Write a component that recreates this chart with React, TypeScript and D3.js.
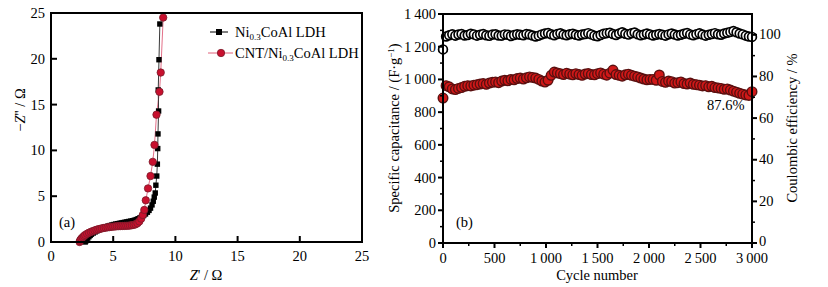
import React from "react";
import * as d3 from "d3";

// ---------- Panel (a) data: Nyquist plots ----------
const niZre = [2.75, 2.8, 2.85, 2.95, 3.05, 3.15, 3.25, 3.4, 3.55, 3.7, 3.85, 4.0, 4.15, 4.3, 4.45, 4.6, 4.75, 4.9, 5.05, 5.2, 5.35, 5.5, 5.65, 5.8, 5.95, 6.1, 6.25, 6.4, 6.55, 6.7, 6.85, 7.0, 7.15, 7.3, 7.45, 7.6, 7.75, 7.88, 8.0, 8.12, 8.22, 8.3, 8.38, 8.43, 8.5, 8.55, 8.58, 8.6, 8.65, 8.62, 8.68, 8.75];
const niZim = [0.0, 0.12, 0.25, 0.42, 0.58, 0.72, 0.85, 0.98, 1.1, 1.22, 1.33, 1.43, 1.52, 1.6, 1.67, 1.74, 1.8, 1.86, 1.91, 1.96, 2.0, 2.04, 2.08, 2.12, 2.16, 2.2, 2.24, 2.28, 2.32, 2.38, 2.45, 2.54, 2.64, 2.76, 2.9, 3.06, 3.25, 3.45, 3.7, 4.05, 4.45, 4.9, 5.35, 6.2, 7.2, 8.5, 10.2, 11.8, 14.3, 16.6, 19.9, 23.8];
const cntZre = [2.3, 2.33, 2.38, 2.45, 2.55, 2.65, 2.75, 2.9, 3.05, 3.2, 3.35, 3.5, 3.65, 3.8, 3.95, 4.1, 4.25, 4.4, 4.55, 4.7, 4.85, 5.0, 5.15, 5.3, 5.45, 5.6, 5.75, 5.9, 6.05, 6.2, 6.35, 6.5, 6.65, 6.8, 6.95, 7.1, 7.25, 7.38, 7.5, 7.62, 7.8, 8.0, 8.18, 8.32, 8.48, 8.72, 8.82, 9.02];
const cntZim = [0.0, 0.12, 0.25, 0.38, 0.52, 0.65, 0.77, 0.9, 1.01, 1.1, 1.18, 1.26, 1.33, 1.39, 1.44, 1.49, 1.53, 1.57, 1.6, 1.63, 1.66, 1.68, 1.7, 1.72, 1.73, 1.74, 1.75, 1.76, 1.77, 1.78, 1.8, 1.83, 1.87, 1.93, 2.05, 2.25, 2.55, 2.95, 3.5, 4.55, 5.85, 7.2, 8.75, 10.6, 13.9, 16.4, 18.5, 24.5];
const aTicks = [0, 5, 10, 15, 20, 25];
const legendA = ["Ni", "CNT/Ni"];

// ---------- Panel (b) data: cycling ----------
const cycleStep = 30;
const efficiency = [
  93.0, 99.2, 99.8, 100.3, 99.6, 100.1, 100.4, 99.7, 99.9, 100.5,
  100.2, 99.6, 100.0, 100.4, 99.8, 99.5, 100.1, 100.3, 99.7, 99.6,
  100.2, 100.0, 99.4, 99.9, 100.3, 100.0, 99.8, 100.4, 100.1, 99.7,
  99.2, 99.6, 100.2, 100.6, 100.9, 100.3, 99.8, 100.4, 100.7, 100.1,
  99.8, 100.3, 100.5, 100.0, 99.7, 100.1, 100.4, 100.8, 100.2, 99.6,
  99.3, 99.9, 100.5, 100.8, 101.0, 100.4, 99.9, 100.6, 101.2, 100.5,
  100.1, 100.7, 101.1, 100.3, 99.8, 100.1, 100.6, 100.2, 99.7, 100.0,
  100.4, 100.0, 99.6, 100.2, 100.6, 100.1, 99.7, 100.0, 100.5, 100.9,
  100.2, 99.8, 100.3, 100.7, 100.1, 99.6, 100.0, 100.4, 100.8, 100.3,
  100.0, 100.6, 101.0, 101.4, 101.8, 101.2, 100.6, 100.2, 99.6, 99.2, 99.0,
];
const capacitance = [
  886, 962, 955, 942, 938, 945, 950, 958, 962, 960,
  965, 968, 972, 975, 970, 978, 982, 985, 980, 990,
  995, 992, 1000, 998, 1005, 1008, 1002, 1010, 1015, 1012,
  1008, 1000, 990, 984, 995, 1025, 1045, 1040, 1035, 1030,
  1038, 1032, 1028, 1035, 1030, 1025, 1033, 1036, 1030, 1028,
  1035, 1040, 1032, 1026, 1038, 1057, 1030, 1025, 1020, 1028,
  1032, 1025, 1020, 1015, 1008, 1002, 998, 1000, 1000, 995,
  1027, 988, 982, 990, 986, 978, 980, 985, 975, 972,
  978, 970, 968, 965, 960, 962, 955, 958, 950, 948,
  945, 940, 942, 935, 928, 922, 915, 910, 905, 902,
  925,
];
const bxTicks = [0, 500, 1000, 1500, 2000, 2500, 3000];
const byTicks = [0, 200, 400, 600, 800, 1000, 1200, 1400];
const byrTicks = [0, 20, 40, 60, 80, 100];

const fmtSpace = (v: number) => {
  const s = String(v);
  return s.length > 3 ? s.slice(0, s.length - 3) + "\u2009" + s.slice(-3) : s;
};

const FONT = "'Liberation Serif', 'Times New Roman', serif";

export default function App() {
  const ax = d3.scaleLinear().domain([0, 25]).range([51, 362]);
  const ay = d3.scaleLinear().domain([0, 25]).range([242, 13]);
  const niPts = niZre.map((x, i) => [x, niZim[i]] as [number, number]);
  const cntPts = cntZre.map((x, i) => [x, cntZim[i]] as [number, number]);
  const lineA = d3.line<[number, number]>().x((d) => ax(d[0])).y((d) => ay(d[1]));

  const bx = d3.scaleLinear().domain([0, 3000]).range([443, 752]);
  const by = d3.scaleLinear().domain([0, 1400]).range([243, 14]);
  const byr = d3.scaleLinear().domain([0, 110]).range([243, 14]);
  const bxMinor = d3.range(250, 3000, 500);
  const byMinor = d3.range(100, 1400, 200);
  const byrMinor = d3.range(10, 110, 20);

  const fs = 14.5;

  return (
    <svg width={828} height={287} style={{ position: "absolute", left: 0, top: 0, background: "#fff" }} fontFamily={FONT}>
      <rect width={828} height={287} fill="#fff" />
      {/* ============ Panel (a) ============ */}
      <g>
        <path d={lineA(cntPts) || ""} fill="none" stroke="#e0607a" strokeWidth={0.9} />
        <path d={lineA(niPts) || ""} fill="none" stroke="#222" strokeWidth={0.9} />
        {niPts.map((d, i) => (
          <rect key={"n" + i} x={ax(d[0]) - 2.7} y={ay(d[1]) - 2.7} width={5.4} height={5.4} fill="#000" />
        ))}
        {cntPts.map((d, i) => (
          <circle key={"c" + i} cx={ax(d[0])} cy={ay(d[1])} r={3.7} fill="#c8102e" stroke="#7a1a2a" strokeWidth={0.8} />
        ))}
        <rect x={51} y={13} width={311} height={229} fill="none" stroke="#000" strokeWidth={2} />
        {aTicks.map((t) => (
          <g key={"ax" + t}>
            <line x1={ax(t)} x2={ax(t)} y1={242} y2={236} stroke="#000" strokeWidth={2} />
            <text x={ax(t)} y={261} fontSize={fs} textAnchor="middle">{t}</text>
          </g>
        ))}
        {aTicks.map((t) => (
          <g key={"ay" + t}>
            <line x1={51} x2={57} y1={ay(t)} y2={ay(t)} stroke="#000" strokeWidth={2} />
            <text x={45} y={ay(t) + 5} fontSize={fs} textAnchor="end">{t}</text>
          </g>
        ))}
        <text x={206} y={280} fontSize={fs} textAnchor="middle">
          <tspan fontStyle="italic">Z</tspan>' / Ω
        </text>
        <text transform="translate(25,110) rotate(-90)" fontSize={fs} textAnchor="middle">
          −<tspan fontStyle="italic">Z</tspan>'' / Ω
        </text>
        <text x={59} y={227} fontSize={fs}>(a)</text>
        <line x1={210} x2={228} y1={32} y2={32} stroke="#000" strokeWidth={1} />
        <rect x={216} y={29} width={6} height={6} fill="#000" />
        <text x={235} y={37} fontSize={fs}>
          {legendA[0]}
          <tspan fontSize={9} dy={3}>0.3</tspan>
          <tspan dy={-3}>CoAl LDH</tspan>
        </text>
        <line x1={208} x2={233} y1={53} y2={53} stroke="#e0607a" strokeWidth={1} />
        <circle cx={221} cy={53} r={3.7} fill="#c8102e" stroke="#7a1a2a" strokeWidth={0.8} />
        <text x={235} y={58} fontSize={fs}>
          {legendA[1]}
          <tspan fontSize={9} dy={3}>0.3</tspan>
          <tspan dy={-3}>CoAl LDH</tspan>
        </text>
      </g>

      {/* ============ Panel (b) ============ */}
      <g>
        {efficiency.map((v, i) => (
          <circle key={"e" + i} cx={bx(i * cycleStep)} cy={byr(v)} r={4.4} fill="#fff" stroke="#000" strokeWidth={1.7} />
        ))}
        {capacitance.map((v, i) => (
          <circle key={"p" + i} cx={bx(i * cycleStep)} cy={by(v)} r={4.8} fill="#d01818" stroke="#5a1010" strokeWidth={1.4} />
        ))}
        <rect x={443} y={14} width={309} height={229} fill="none" stroke="#000" strokeWidth={2} />
        {bxTicks.map((t) => (
          <g key={"bx" + t}>
            <line x1={bx(t)} x2={bx(t)} y1={243} y2={248} stroke="#000" strokeWidth={2} />
            <text x={bx(t)} y={262.5} fontSize={fs} textAnchor="middle">{fmtSpace(t)}</text>
          </g>
        ))}
        {bxMinor.map((t) => (
          <line key={"bxm" + t} x1={bx(t)} x2={bx(t)} y1={243} y2={246} stroke="#000" strokeWidth={1.5} />
        ))}
        {byTicks.map((t) => (
          <g key={"by" + t}>
            <line x1={438} x2={443} y1={by(t)} y2={by(t)} stroke="#000" strokeWidth={2} />
            <text x={436} y={by(t) + 5} fontSize={fs} textAnchor="end">{fmtSpace(t)}</text>
          </g>
        ))}
        {byMinor.map((t) => (
          <line key={"bym" + t} x1={440} x2={443} y1={by(t)} y2={by(t)} stroke="#000" strokeWidth={1.5} />
        ))}
        {byrTicks.map((t) => (
          <g key={"byr" + t}>
            <line x1={752} x2={757} y1={byr(t)} y2={byr(t)} stroke="#000" strokeWidth={2} />
            <text x={759} y={byr(t) + (t === 0 ? 2.5 : 4.5)} fontSize={fs} textAnchor="start">{t}</text>
          </g>
        ))}
        {byrMinor.map((t) => (
          <line key={"byrm" + t} x1={752} x2={755} y1={byr(t)} y2={byr(t)} stroke="#000" strokeWidth={1.5} />
        ))}
        <text x={597} y={280} fontSize={fs} textAnchor="middle">Cycle number</text>
        <text transform="translate(399,128) rotate(-90)" fontSize={fs} textAnchor="middle">
          Specific capacitance / (F·g<tspan fontSize={9} dy={-5}>−1</tspan><tspan dy={5}>)</tspan>
        </text>
        <text transform="translate(797,128) rotate(-90)" fontSize={fs} textAnchor="middle">
          Coulombic efficiency / %
        </text>
        <text x={456} y={227} fontSize={fs}>(b)</text>
        <text x={707} y={110} fontSize={fs}>87.6%</text>
      </g>
    </svg>
  );
}
